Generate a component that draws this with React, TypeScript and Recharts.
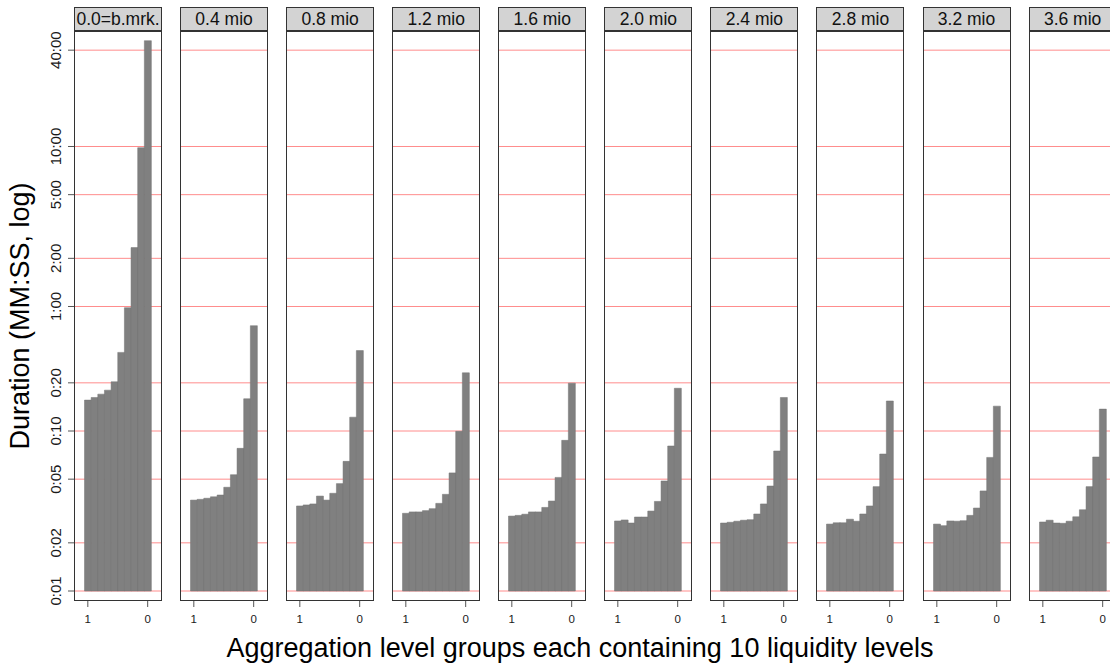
import React from 'react'
import { BarChart, Bar, XAxis, YAxis, ReferenceLine } from 'recharts'

// facet strip labels
const panelLabels = ['0.0=b.mrk.', '0.4 mio', '0.8 mio', '1.2 mio', '1.6 mio', '2.0 mio', '2.4 mio', '2.8 mio', '3.2 mio', '3.6 mio']

// liquidity levels inside each group (only the ends are labelled)
const levels = ['1', '0.89', '0.78', '0.67', '0.56', '0.44', '0.33', '0.22', '0.11', '0']

// durations in seconds
const bmrk = [15.6, 16.2, 17.0, 18.0, 20.3, 31.0, 59.0, 140, 590, 2750]
const mio04 = [3.7, 3.74, 3.8, 3.88, 3.98, 4.45, 5.33, 7.79, 15.9, 45.5]
const mio08 = [3.4, 3.45, 3.5, 3.92, 3.7, 4.08, 4.69, 6.46, 12.2, 31.8]
const mio12 = [3.06, 3.12, 3.12, 3.18, 3.27, 3.53, 4.02, 5.47, 9.95, 23.1]
const mio16 = [2.94, 2.97, 3.02, 3.12, 3.12, 3.33, 3.65, 5.13, 8.74, 19.9]
const mio20 = [2.74, 2.78, 2.66, 2.9, 2.9, 3.16, 3.63, 4.87, 8.06, 18.5]
const mio24 = [2.66, 2.69, 2.73, 2.77, 2.79, 3.03, 3.5, 4.53, 7.5, 16.2]
const mio28 = [2.62, 2.67, 2.67, 2.81, 2.73, 3.03, 3.4, 4.49, 7.18, 15.4]
const mio32 = [2.62, 2.56, 2.74, 2.73, 2.75, 2.97, 3.3, 4.22, 6.84, 14.3]
const mio36 = [2.7, 2.77, 2.66, 2.65, 2.73, 2.91, 3.22, 4.49, 6.88, 13.7]

const series = [bmrk, mio04, mio08, mio12, mio16, mio20, mio24, mio28, mio32, mio36]

const yTicks = [1, 2, 5, 10, 20, 60, 120, 300, 600, 2400]

const FONT = '"Liberation Sans", Arial, Helvetica, sans-serif'
const PLOT_TOP = 31
const PLOT_H = 570
const PANEL_W = 88
const FIRST_LEFT = 74
const STEP = 106.07
const AXIS_W = 74

const fmt = (s: number) => {
  const m = Math.floor(s / 60)
  const sec = s % 60
  return `${m}:${sec < 10 ? '0' : ''}${sec}`
}

function YTick(props: any) {
  const { x, y, payload } = props
  const bx = x - 7
  return (
    <text
      x={bx}
      y={y}
      transform={`rotate(-90, ${bx}, ${y})`}
      textAnchor="middle"
      fontSize={15}
      fontFamily={FONT}
      fill="#1a1a1a"
    >
      {fmt(payload.value)}
    </text>
  )
}

function XTick(props: any) {
  const { x, y, payload } = props
  if (payload.value !== '1' && payload.value !== '0') return null
  return (
    <g>
      <line x1={x} x2={x} y1={y} y2={y + 6} stroke="#555" strokeWidth={1} />
      <text x={x} y={y + 22} textAnchor="middle" fontSize={11.5} fontFamily={FONT} fill="#1a1a1a">
        {payload.value}
      </text>
    </g>
  )
}

function Panel({ index }: { index: number }) {
  const values = series[index]
  const rows = levels.map((level, j) => ({ level, range: [1, values[j]] }))
  const first = index === 0
  const plotLeft = FIRST_LEFT + STEP * index
  const chartLeft = first ? plotLeft - AXIS_W : plotLeft
  const chartW = first ? PANEL_W + AXIS_W : PANEL_W
  return (
    <>
      <div style={{ position: 'absolute', left: chartLeft, top: PLOT_TOP }}>
        <BarChart
          width={chartW}
          height={PLOT_H + 40}
          data={rows}
          margin={{ top: 0, right: 0, bottom: 0, left: 0 }}
          barCategoryGap={0}
          barGap={0}
        >
          <XAxis
            dataKey="level"
            type="category"
            interval={0}
            padding={{ left: 10.5, right: 11 }}
            axisLine={false}
            tickLine={false}
            tickSize={0}
            tickMargin={0}
            height={40}
            tick={<XTick />}
          />
          <YAxis
            type="number"
            scale="log"
            domain={[0.866, 3162]}
            allowDataOverflow
            ticks={yTicks}
            interval={0}
            hide={!first}
            width={AXIS_W}
            axisLine={false}
            tickLine={{ stroke: '#555' }}
            tickSize={6}
            tickMargin={0}
            tick={<YTick />}
          />
          {yTicks.map((t) => (
            <ReferenceLine key={t} y={t} stroke="#ff8c8c" strokeWidth={1} zIndex={-100} />
          ))}
          <Bar
            dataKey="range"
            fill="#808080"
            stroke="#727272"
            strokeWidth={0.5}
            isAnimationActive={false}
          />
        </BarChart>
      </div>
      {/* panel frame */}
      <div
        style={{
          position: 'absolute',
          left: plotLeft,
          top: PLOT_TOP - 0.5,
          width: PANEL_W,
          height: PLOT_H + 0.5,
          border: '1px solid #333',
          boxSizing: 'border-box',
          pointerEvents: 'none',
        }}
      />
      {/* strip */}
      <div
        style={{
          position: 'absolute',
          left: plotLeft,
          top: 7,
          width: PANEL_W,
          height: 24,
          border: '1px solid #333',
          boxSizing: 'border-box',
          background: '#d3d3d3',
          fontFamily: FONT,
          fontSize: 17.5,
          lineHeight: '22px',
          textAlign: 'center',
          whiteSpace: 'nowrap',
          overflow: 'hidden',
          color: '#111',
        }}
      >
        {panelLabels[index]}
      </div>
    </>
  )
}

export default function App() {
  return (
    <div
      style={{
        position: 'absolute',
        left: 0,
        top: 0,
        width: 1110,
        height: 666,
        overflow: 'hidden',
        background: '#fff',
      }}
    >
      {panelLabels.map((_, i) => (
        <Panel key={i} index={i} />
      ))}
      <svg width={1110} height={666} style={{ position: 'absolute', left: 0, top: 0, pointerEvents: 'none' }}>
        <text
          x={29}
          y={316}
          transform="rotate(-90, 29, 316)"
          textAnchor="middle"
          fontSize={27}
          fontFamily={FONT}
          fill="#000"
        >
          Duration (MM:SS, log)
        </text>
        <text x={580} y={657} textAnchor="middle" fontSize={27} fontFamily={FONT} fill="#000">
          Aggregation level groups each containing 10 liquidity levels
        </text>
      </svg>
    </div>
  )
}
